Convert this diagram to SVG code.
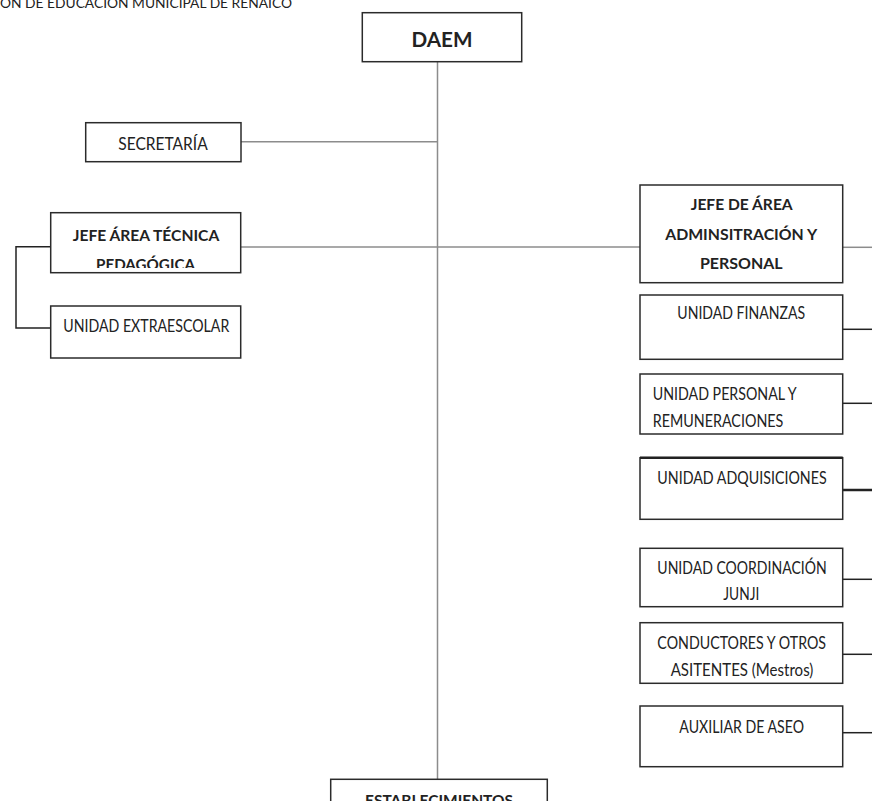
<svg xmlns="http://www.w3.org/2000/svg" width="872" height="801" viewBox="0 0 872 801">
<style>
  .box { fill: #ffffff; stroke: #2b2b2b; stroke-width: 1.5; }
  .t { font-family: Lato, "Liberation Sans", sans-serif; fill: #222222; font-size: 17.5px; }
  .b { font-weight: bold; font-size: 15px; }
  .c { text-anchor: middle; }
  .gray { stroke: #8c8c8c; stroke-width: 1.5; fill: none; }
  .dark { stroke: #222222; stroke-width: 1.5; fill: none; }
</style>
<defs>
  <clipPath id="clipPed">
    <rect x="50" y="213" width="191" height="55"/>
  </clipPath>
</defs>
<rect width="872" height="801" fill="#ffffff"/>

<text class="t" x="0" y="7.5" textLength="292" lengthAdjust="spacingAndGlyphs" style="font-size:13.5px">ÓN DE EDUCACIÓN MUNICIPAL DE RENAICO</text>

<g id="connectors">
  <line class="gray" x1="437.5" y1="62" x2="437.5" y2="779"/>
  <line class="gray" x1="241" y1="141.7" x2="437.5" y2="141.7"/>
  <line class="gray" x1="240.7" y1="247" x2="640" y2="247"/>
  <polyline class="dark" points="50.7,246.7 16,246.7 16,328 50.7,328"/>
  <line class="gray" x1="842.7" y1="247.3" x2="872" y2="247.3"/>
  <line class="dark" x1="842.7" y1="329.3" x2="872" y2="329.3"/>
  <line class="dark" x1="842.7" y1="403.3" x2="872" y2="403.3"/>
  <line class="dark" x1="842.7" y1="490" x2="872" y2="490" style="stroke-width:2.5"/>
  <line class="dark" x1="842.7" y1="579.3" x2="872" y2="579.3"/>
  <line class="dark" x1="842.7" y1="654.3" x2="872" y2="654.3"/>
  <line class="dark" x1="842.7" y1="732.7" x2="872" y2="732.7"/>
</g>

<g id="daem">
  <rect class="box" x="362.3" y="12.7" width="159.4" height="49"/>
  <text class="t b c" x="442" y="46.7" style="font-size:21px" textLength="61" lengthAdjust="spacingAndGlyphs">DAEM</text>
</g>

<g id="secretaria">
  <rect class="box" x="85.7" y="122.7" width="155.3" height="39"/>
  <text class="t c" x="163" y="150" textLength="89.4" lengthAdjust="spacingAndGlyphs">SECRETARÍA</text>
</g>

<g id="jefe-tecnica">
  <rect class="box" x="50.7" y="212.7" width="190" height="60"/>
  <text class="t b c" x="146" y="240.7" textLength="146.6" lengthAdjust="spacingAndGlyphs">JEFE ÁREA TÉCNICA</text>
  <text class="t b c" x="145.5" y="270" textLength="99" lengthAdjust="spacingAndGlyphs" clip-path="url(#clipPed)">PEDAGÓGICA</text>
</g>

<g id="extraescolar">
  <rect class="box" x="50.7" y="306" width="190" height="52"/>
  <text class="t c" x="146.3" y="331.7" textLength="166" lengthAdjust="spacingAndGlyphs">UNIDAD EXTRAESCOLAR</text>
</g>

<g id="jefe-administracion">
  <rect class="box" x="640" y="185" width="202.7" height="97.7"/>
  <text class="t b c" x="741.7" y="210" textLength="102" lengthAdjust="spacingAndGlyphs">JEFE DE ÁREA</text>
  <text class="t b c" x="741.2" y="240.3" textLength="152" lengthAdjust="spacingAndGlyphs">ADMINSITRACIÓN Y</text>
  <text class="t b c" x="741.3" y="269" textLength="82.7" lengthAdjust="spacingAndGlyphs">PERSONAL</text>
</g>

<g id="finanzas">
  <rect class="box" x="640" y="295" width="202.7" height="64.3"/>
  <text class="t c" x="741.2" y="318.5" textLength="127.7" lengthAdjust="spacingAndGlyphs">UNIDAD FINANZAS</text>
</g>

<g id="personal">
  <rect class="box" x="640" y="374" width="202.7" height="60"/>
  <text class="t" x="652.7" y="400" textLength="144" lengthAdjust="spacingAndGlyphs">UNIDAD PERSONAL Y</text>
  <text class="t" x="652.7" y="426.7" textLength="130.7" lengthAdjust="spacingAndGlyphs">REMUNERACIONES</text>
</g>

<g id="adquisiciones">
  <rect class="box" x="640" y="457.7" width="202.7" height="61.6"/>
  <line class="dark" x1="640" y1="457.7" x2="842.7" y2="457.7" style="stroke-width:2.5"/>
  <text class="t c" x="742" y="484" textLength="169.3" lengthAdjust="spacingAndGlyphs">UNIDAD ADQUISICIONES</text>
</g>

<g id="junji">
  <rect class="box" x="640" y="548.3" width="202.7" height="58.4"/>
  <text class="t c" x="742" y="574" textLength="169.3" lengthAdjust="spacingAndGlyphs">UNIDAD COORDINACIÓN</text>
  <text class="t c" x="741.3" y="600" textLength="36" lengthAdjust="spacingAndGlyphs">JUNJI</text>
</g>

<g id="conductores">
  <rect class="box" x="640" y="622.7" width="202.7" height="60.6"/>
  <text class="t c" x="741.7" y="649.3" textLength="168.7" lengthAdjust="spacingAndGlyphs">CONDUCTORES Y OTROS</text>
  <text class="t c" x="742" y="676" textLength="142.7" lengthAdjust="spacingAndGlyphs">ASITENTES (Mestros)</text>
</g>

<g id="aseo">
  <rect class="box" x="640" y="706" width="202.7" height="60.7"/>
  <text class="t c" x="741.7" y="732.7" textLength="124.7" lengthAdjust="spacingAndGlyphs">AUXILIAR DE ASEO</text>
</g>

<g id="establecimientos">
  <rect class="box" x="330.7" y="779.3" width="216.6" height="40"/>
  <text class="t b c" x="439" y="806" textLength="148" lengthAdjust="spacingAndGlyphs">ESTABLECIMIENTOS</text>
</g>
</svg>
